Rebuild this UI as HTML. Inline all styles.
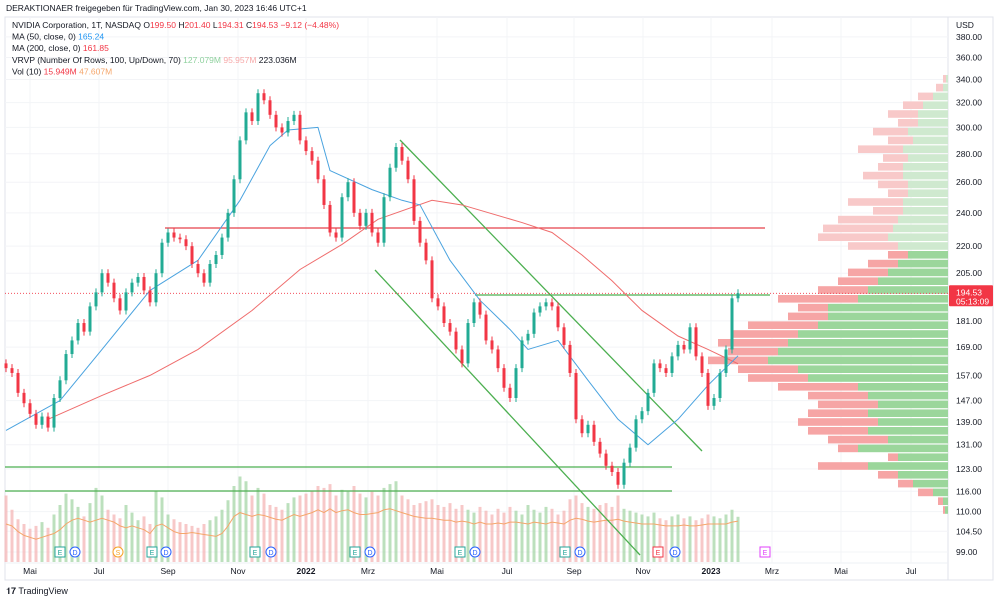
<!DOCTYPE html>
<html><head><meta charset="utf-8"><style>
body{margin:0;background:#fff;font-family:"Liberation Sans",sans-serif;}
svg{display:block}
</style></head><body>
<svg id="c" width="1000" height="602" font-family="Liberation Sans, sans-serif"></svg>
<script>
const closes=[160,158,150,146,142,138,141,137,148,155,166,172,180,176,188,195,205,200,192,186,195,200,203,196,190,205,222,228,225,224,220,210,205,200,210,215,225,240,262,290,312,305,328,322,310,300,296,305,310,290,282,275,262,245,228,225,250,260,240,232,240,228,222,250,270,285,275,262,235,222,212,192,188,180,176,168,162,180,190,184,172,168,160,152,148,160,172,175,185,188,190,188,178,170,158,140,135,138,132,128,124,122,118,125,130,140,143,150,162,160,158,165,170,168,178,165,158,145,148,158,168,192,194.53];
const volumes=[70,55,45,40,35,38,42,36,50,60,72,66,58,48,62,78,70,55,50,46,60,52,44,48,40,75,68,50,45,42,40,38,36,40,44,48,55,65,80,90,85,70,78,72,60,58,55,62,68,70,72,75,80,78,82,70,76,74,80,72,68,74,70,78,82,85,70,66,60,62,64,66,60,58,62,56,60,55,52,58,54,50,56,52,58,54,50,60,55,52,58,56,50,54,66,70,62,58,56,60,62,58,70,56,54,52,50,48,52,46,44,48,50,46,48,44,46,50,48,46,50,55,47.6];
const volMa=[40,38,32,28,26,24,26,28,30,34,40,44,46,44,42,44,46,44,42,38,36,38,36,34,30,38,40,36,32,30,30,31,30,29,28,27,30,38,48,52,50,48,50,49,47,45,44,47,50,48,50,52,55,52,56,52,54,55,52,50,50,51,52,55,56,54,52,50,48,47,46,46,45,44,44,42,43,42,40,42,40,40,41,40,42,42,41,40,42,41,40,42,41,40,44,46,45,43,42,43,44,44,45,43,42,41,40,40,40,39,38,38,38,39,38,38,39,40,40,40,40,42,43];
const ma50Idx=[0,9,16,24,32,39,44,47,52,54,61,66,69,74,79,84,87,92,97,102,107,112,117,122];
const ma50=[136,147,168,196,212,248,286,298,300,268,255,248,245,212,191,177,168,172,155,140,131,140,153,165.24];
const ma200Idx=[7,16,24,32,41,49,56,62,71,76,86,91,96,101,106,112,117,122];
const ma200=[140,149,157,168,186,207,221,236,248,245,234,228,215,201,186,174,168,161.85];
const priceTicks=[380,360,340,320,300,280,260,240,220,205,181,169,157,147,139,131,123,116,110,104.5,99];
const months=["Mai","Jul","Sep","Nov","2022","Mrz","Mai","Jul","Sep","Nov","2023","Mrz","Mai","Jul"];
const monthX=[30,99,168,238,306,368,437,507,574,643,711,772,841,911];
const vpTotal=[5,12,30,45,60,50,75,60,90,65,70,85,70,60,100,75,110,125,130,100,60,80,100,110,130,170,150,160,200,215,230,220,240,210,200,170,140,130,140,150,140,120,110,60,130,70,50,30,10,5];
const vpUp=[2,5,15,25,30,30,40,35,45,40,45,45,40,40,45,45,50,55,60,50,40,50,60,70,80,90,120,120,130,150,160,170,180,150,140,90,80,70,80,70,80,60,90,50,80,50,35,15,5,3];
const lastPrice=194.53;

const svg=document.getElementById('c');
const NS='http://www.w3.org/2000/svg';
function el(t,a,p){const e=document.createElementNS(NS,t);for(const k in a)e.setAttribute(k,a[k]);(p||svg).appendChild(e);return e;}
const y=p=>552-(Math.log(p)-Math.log(99))*383;
const x=i=>6+i*6;
const plotR=948;

let fr=el('rect',{x:5,y:17,width:988,height:563,fill:'none',stroke:'#e0e3eb'});


let ax=el('line',{x1:plotR,y1:17,x2:plotR,y2:580,stroke:'#e0e3eb'});


el('line',{x1:5,y1:563,x2:plotR,y2:563,stroke:'#eef0f4'});
priceTicks.forEach(p=>{
  el('line',{x1:5,x2:plotR,y1:y(p),y2:y(p),stroke:'#f3f4f7'});
  const t=el('text',{x:956,y:y(p)+3,'font-size':8.5,fill:'#131722'});t.textContent=p.toFixed(2);
  
  
});
let usd=el('text',{x:956,y:28,'font-size':8.5,fill:'#131722'});usd.textContent='USD';


months.forEach((m,i)=>{
  el('line',{x1:monthX[i],x2:monthX[i],y1:17,y2:563,stroke:'#f3f4f7'});
  const bold=/^20/.test(m);
  const t=el('text',{x:monthX[i],y:574,'font-size':8.5,'text-anchor':'middle',fill:'#131722','font-weight':bold?'bold':'normal'});t.textContent=m;
  
  
});
const rowH=8.8;
vpTotal.forEach((tw,i)=>{
  const yy=75+i*rowH;const faded=i<20;
  const g=el('g',{});
  
  
  el('rect',{x:plotR-tw,y:yy,width:tw-vpUp[i],height:rowH-1.2,fill:faded?'#f8c9c9':'#f6a5a5'},g);
  el('rect',{x:plotR-vpUp[i],y:yy,width:vpUp[i],height:rowH-1.2,fill:faded?'#cfe9cf':'#9bd69b'},g);
});
const vBase=562,vScale=0.95;
closes.forEach((c,i)=>{
  const o=i?closes[i-1]:162;
  const b=el('rect',{x:x(i)-1.5,y:vBase-volumes[i]*vScale,width:3,height:volumes[i]*vScale,fill:c>=o?'#a5d6a7':'#f4b6b6',opacity:0.75});
  
  
});
let vm=el('polyline',{points:volMa.map((v,i)=>x(i)+','+(vBase-v*vScale)).join(' '),fill:'none',stroke:'#f5a66b','stroke-width':1});


function line(a,b,c,d,col,name){const l=el('line',{x1:a,y1:b,x2:c,y2:d,stroke:col,'stroke-width':1.3});}
line(165,228,765,228,'#e5404b','resistance-line-red');
line(475,295,770,295,'#4caf50','resistance-line-green');
line(5,467,672,467,'#4caf50','support-line-1');
line(5,491,672,491,'#4caf50','support-line-2');
line(400,140,702,451,'#4caf50','channel-upper-line');
line(375,270,640,555,'#4caf50','channel-lower-line');
let dl=el('line',{x1:5,x2:plotR,y1:y(lastPrice),y2:y(lastPrice),stroke:'#f23645','stroke-dasharray':'1,2','stroke-width':0.8});


let m2=el('polyline',{points:ma200.map((v,i)=>x(ma200Idx[i])+','+y(v)).join(' '),fill:'none',stroke:'#ef6c6c','stroke-width':1});


let m1=el('polyline',{points:ma50.map((v,i)=>x(ma50Idx[i])+','+y(v)).join(' '),fill:'none',stroke:'#4aa3df','stroke-width':1,'stroke-linejoin':'round'});


closes.forEach((c,i)=>{
  const o=i?closes[i-1]:162;const up=c>=o;const col=up?'#22ab94':'#f23645';
  const g=el('g',{});
  
  
  const t=Math.min(y(c),y(o)),bt=Math.max(y(c),y(o));
  el('line',{x1:x(i),x2:x(i),y1:t-4,y2:bt+4,stroke:col,'stroke-width':1},g);
  el('rect',{x:x(i)-1.5,y:t,width:3,height:Math.max(1,bt-t),fill:col},g);
});
[[60,'E','#26a69a'],[75,'D','#2962ff'],[118,'S','#f7a326'],[152,'E','#26a69a'],[166,'D','#2962ff'],[255,'E','#26a69a'],[271,'D','#2962ff'],[355,'E','#26a69a'],[370,'D','#2962ff'],[460,'E','#26a69a'],[475,'D','#2962ff'],[565,'E','#26a69a'],[580,'D','#2962ff'],[658,'E','#f23645'],[675,'D','#2962ff'],[765,'E','#e040fb']].forEach(e=>{
  const g=el('g',{});
  
  
  if(e[1]==='D'||e[1]==='S')el('circle',{cx:e[0],cy:552,r:5,fill:'#fff',stroke:e[2]},g);
  else el('rect',{x:e[0]-5,y:547,width:10,height:10,fill:'#fff',stroke:e[2]},g);
  const t=el('text',{x:e[0],y:555,'font-size':7,'text-anchor':'middle',fill:e[2]},g);t.textContent=e[1];
});
const pl=el('g',{});


el('rect',{x:949,y:y(lastPrice)-8,width:44,height:21,fill:'#f23645',rx:1},pl);
let t1=el('text',{x:956,y:y(lastPrice)+2,'font-size':8.5,fill:'#fff'},pl);t1.textContent=lastPrice.toFixed(2);
let t2=el('text',{x:956,y:y(lastPrice)+11,'font-size':8.5,fill:'#fff'},pl);t2.textContent='05:13:09';
let h=el('text',{x:6,y:11,'font-size':8.5,fill:'#131722'});h.textContent='DERAKTIONAER freigegeben für TradingView.com, Jan 30, 2023 16:46 UTC+1';


const leg=[[ ['NVIDIA Corporation, 1T, NASDAQ  ','#131722'],['O','#131722'],['199.50  ','#f23645'],['H','#131722'],['201.40  ','#f23645'],['L','#131722'],['194.31  ','#f23645'],['C','#131722'],['194.53  −9.12 (−4.48%)','#f23645'] ],
 [['MA (50, close, 0)  ','#131722'],['165.24','#2196f3']],
 [['MA (200, close, 0)  ','#131722'],['161.85','#f23645']],
 [['VRVP (Number Of Rows, 100, Up/Down, 70)  ','#131722'],['127.079M  ','#8fd19e'],['95.957M  ','#f7a9a9'],['223.036M','#131722']],
 [['Vol (10)  ','#131722'],['15.949M  ','#f23645'],['47.607M','#f5a66b']]];
const names=['symbol-legend','ma50-legend','ma200-legend','vrvp-legend','volume-legend'];
leg.forEach((row,i)=>{
  const t=el('text',{x:12,y:28+i*11.6,'font-size':8.5,'xml:space':'preserve'});
  
  
  row.forEach(s=>{const sp=el('tspan',{fill:s[1]},t);sp.textContent=s[0];});
});
let logo=el('text',{x:6,y:594,'font-size':9,fill:'#131722'});logo.textContent='𝟏𝟕 TradingView';


</script>
</body></html>
